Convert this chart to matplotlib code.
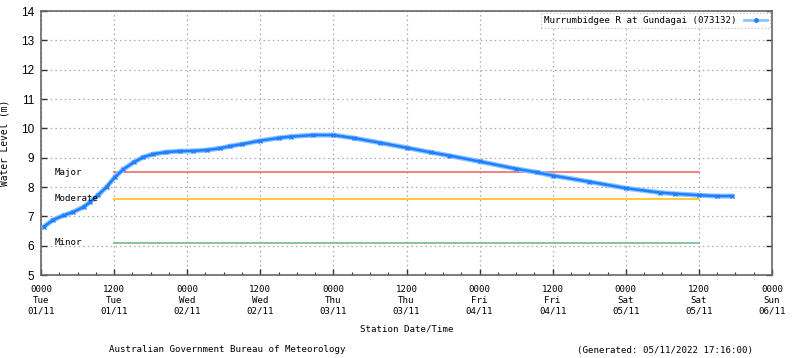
import matplotlib
matplotlib.use("Agg")
import matplotlib.pyplot as plt
from matplotlib.lines import Line2D
from matplotlib.ticker import MultipleLocator

# ---- data ----
hours = [0.5, 2, 3.7, 5.3, 7, 8, 9.4, 10.8, 12.1, 13.5, 15.2, 16.8, 18.4, 20.6,
         22.8, 25, 27.2, 29.4, 31, 33, 36, 39, 41, 44.7, 48, 51.3, 55.6, 60, 64,
         67, 72, 78, 81.4, 84, 90, 96, 101.6, 104, 108, 111, 113.5]
level = [6.65, 6.88, 7.03, 7.15, 7.32, 7.48, 7.73, 8.01, 8.33, 8.6, 8.84, 9.02,
         9.12, 9.19, 9.22, 9.23, 9.26, 9.32, 9.39, 9.46, 9.58, 9.67, 9.72, 9.77,
         9.77, 9.67, 9.51, 9.34, 9.18, 9.07, 8.87, 8.62, 8.5, 8.39, 8.18, 7.96,
         7.81, 7.77, 7.72, 7.69, 7.69]
series_name = "Murrumbidgee R at Gundagai (073132)"

flood_names = ["Major", "Moderate", "Minor"]
flood_levels = [8.5, 7.6, 6.1]
flood_colors = ["#f07878", "#ffc425", "#7fbf95"]
flood_start, flood_end = 12, 108

tick_hours = list(range(0, 121, 12))
tick_labels = ["0000\nTue\n01/11", "1200\nTue\n01/11", "0000\nWed\n02/11",
               "1200\nWed\n02/11", "0000\nThu\n03/11", "1200\nThu\n03/11",
               "0000\nFri\n04/11", "1200\nFri\n04/11", "0000\nSat\n05/11",
               "1200\nSat\n05/11", "0000\nSun\n06/11"]
y_ticks = list(range(5, 15))

mono = "DejaVu Sans Mono"
fs = 6.6

fig = plt.figure(figsize=(8, 3.58), dpi=100)
ax = fig.add_axes([41/800, 83/358, 731/800, 264/358])

ax.set_xlim(0, 120)
ax.set_ylim(5, 14)

# grid
ax.set_xticks(tick_hours)
ax.set_yticks(y_ticks)
ax.grid(True, color="#aaaaaa", linestyle=(0, (1.2, 2.5)), linewidth=0.9)
ax.set_axisbelow(True)

# flood lines
for name, lv, c in zip(flood_names, flood_levels, flood_colors):
    ax.plot([flood_start, flood_end], [lv, lv], color=c, linewidth=1.3, zorder=2)
    ax.text(2.3, lv, name, family=mono, fontsize=fs, va="center", ha="left", zorder=4)

# series
ax.plot(hours, level, color="#8cc4ff", linewidth=3.6, solid_capstyle="round", zorder=3)
ax.plot(hours, level, color="#1e7fff", linewidth=1.8, marker="x", markersize=2.5,
        markeredgewidth=1.0, zorder=3)

# ticks
ax.set_xticklabels(tick_labels, family=mono, fontsize=fs, linespacing=1.3)
ax.xaxis.set_minor_locator(MultipleLocator(3))
ax.tick_params(axis="x", which="major", direction="in", length=4, width=1,
               color="#333333", pad=7)
ax.tick_params(axis="x", which="minor", direction="in", length=2.5, width=0.8,
               color="#333333")
ax.tick_params(axis="y", which="major", direction="in", length=4, width=1,
               right=True, color="#333333", labelsize=8.5, pad=5)
for lab in ax.get_yticklabels():
    lab.set_family("Liberation Sans")

for sp in ax.spines.values():
    sp.set_color("#666666")
    sp.set_linewidth(1.2)

ax.set_ylabel("Water Level (m)", family=mono, fontsize=fs + 0.3, labelpad=8)
ax.set_xlabel("Station Date/Time", family=mono, fontsize=fs, labelpad=6)

handle = Line2D([], [], color="#8cc4ff", linewidth=2, marker="o", markersize=2.5,
                markerfacecolor="#1e7fff", markeredgecolor="#1e7fff")
leg = ax.legend([handle], [series_name], loc="upper right", prop={"family": mono, "size": fs},
                frameon=True, fancybox=False, borderpad=0.35, handlelength=2.5,
                handletextpad=0.8, borderaxespad=0.2, markerfirst=False)
leg.get_frame().set_edgecolor("#aaaaaa")
leg.get_frame().set_linestyle((0, (1, 2)))
leg.get_frame().set_linewidth(0.8)

fig.text(227/800, 1 - 350/358, "Australian Government Bureau of Meteorology",
         family=mono, fontsize=fs, ha="center", va="center")
fig.text(665/800, 1 - 350/358, "(Generated: 05/11/2022 17:16:00)",
         family=mono, fontsize=fs, ha="center", va="center")

fig.savefig("out.png", dpi=100)
